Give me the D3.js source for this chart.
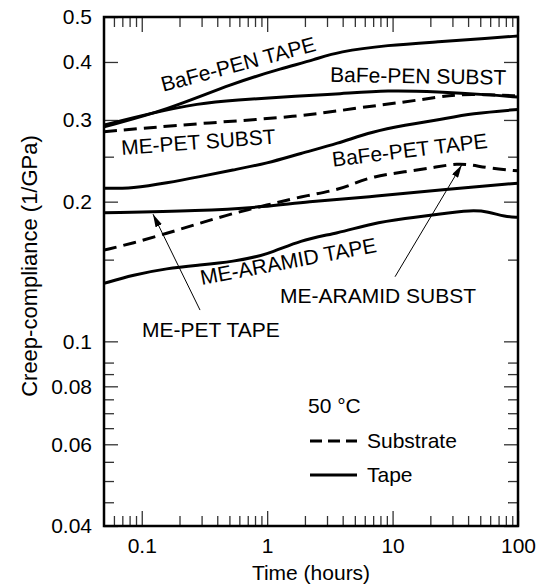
<!DOCTYPE html>
<html>
<head>
<meta charset="utf-8">
<script src="https://cdn.jsdelivr.net/npm/d3@7"></script>
<style>
  body { margin: 0; background: #fff; }
  text { font-family: "Liberation Sans", Arial, Helvetica, sans-serif; }
</style>
</head>
<body>
<div id="chart"></div>
<script>
// axis ticks
var xMajor = [0.1, 1, 10, 100];
var xMajorLabels = ['0.1', '1', '10', '100'];
var xMinor = [0.06, 0.07, 0.08, 0.09, 0.2, 0.3, 0.4, 0.5, 0.6, 0.7, 0.8, 0.9,
              2, 3, 4, 5, 6, 7, 8, 9, 20, 30, 40, 50, 60, 70, 80, 90];
var yMajor = [0.04, 0.06, 0.08, 0.1, 0.2, 0.3, 0.4, 0.5];
var yMajorLabels = ['0.04', '0.06', '0.08', '0.1', '0.2', '0.3', '0.4', '0.5'];
var yMinor = [0.045, 0.05, 0.055, 0.065, 0.07, 0.075, 0.085, 0.09, 0.15, 0.25];

// series (time in hours, creep compliance in 1/GPa)
var penTapeX = [0.05, 0.159, 0.53, 1.34, 2.41, 3.67, 9.2, 23, 57.7, 100];
var penTapeY = [0.290, 0.315, 0.360, 0.388, 0.405, 0.421, 0.435, 0.442, 0.450, 0.455];

var penSubstX = [0.05, 0.116, 0.29, 0.53, 1.83, 3.67, 9.2, 23, 57.7, 100];
var penSubstY = [0.2925, 0.310, 0.326, 0.331, 0.338, 0.341, 0.348, 0.345, 0.340, 0.336];

var mePetSubstX = [0.05, 0.29, 1.83, 5.0, 12.6, 23, 34.5, 59.8, 100];
var mePetSubstY = [0.283, 0.295, 0.305, 0.318, 0.328, 0.336, 0.341, 0.340, 0.338];

var bafePetTapeX = [0.05, 0.085, 0.159, 0.29, 0.53, 1.0, 1.83, 3.67, 6.86, 12.6, 23, 43, 100];
var bafePetTapeY = [0.2137, 0.2137, 0.2194, 0.2264, 0.234, 0.2418, 0.254, 0.267, 0.283, 0.2925, 0.300, 0.310, 0.316];

var aramidSubstX = [0.05, 0.085, 0.159, 0.29, 0.53, 1.0, 1.83, 3.67, 5.0, 6.86, 12.6, 23, 33, 43, 59.8, 100];
var aramidSubstY = [0.1573, 0.1627, 0.171, 0.1796, 0.1887, 0.1967, 0.2049, 0.212, 0.2192, 0.2264, 0.232, 0.2378, 0.2418, 0.240, 0.236, 0.233];

var mePetTapeX = [0.05, 0.29, 1.0, 2.0, 6.86, 23, 100];
var mePetTapeY = [0.1893, 0.191, 0.195, 0.200, 0.2049, 0.212, 0.2192];

var aramidTapeX = [0.05, 0.085, 0.159, 0.29, 0.53, 1.0, 1.83, 3.67, 6.86, 12.6, 23, 43, 57.7, 78.9, 100];
var aramidTapeY = [0.1333, 0.139, 0.1437, 0.146, 0.1485, 0.1535, 0.1654, 0.171, 0.1796, 0.184, 0.188, 0.1919, 0.1903, 0.1856, 0.185];

(function () {
    var width = 542, height = 587;
    var plotLeft = 104, plotRight = 518, plotTop = 17, plotBottom = 526;
    var fontSize = 21;

    var x = d3.scaleLog().domain([0.05, 100]).range([plotLeft, plotRight]);
    var y = d3.scaleLog().domain([0.04, 0.5]).range([plotBottom, plotTop]);

    var svg = d3.select('#chart').append('svg')
        .attr('width', width)
        .attr('height', height);

    var defs = svg.append('defs');
    defs.append('clipPath').attr('id', 'plot')
        .append('rect')
        .attr('x', plotLeft).attr('y', plotTop)
        .attr('width', plotRight - plotLeft).attr('height', plotBottom - plotTop);
    defs.append('marker')
        .attr('id', 'head')
        .attr('viewBox', '0 0 13 7')
        .attr('refX', 13).attr('refY', 3.5)
        .attr('markerWidth', 13).attr('markerHeight', 7)
        .attr('markerUnits', 'userSpaceOnUse')
        .attr('orient', 'auto')
        .append('path')
        .attr('d', 'M0,0L13,3.5L0,7Z')
        .attr('fill', '#000');

    function styleAxis(g) {
        g.select('.domain').remove();
        g.selectAll('.tick line').attr('stroke', '#333').attr('stroke-width', 1.3);
        g.selectAll('text')
            .attr('fill', '#000')
            .style('font-size', fontSize + 'px')
            .style('font-family', '"Liberation Sans", Arial, sans-serif');
    }

    function fmtFrom(values, labels) {
        return function (d) { return labels[values.indexOf(d)]; };
    }

    // bottom axis
    svg.append('g').attr('transform', 'translate(0,' + plotBottom + ')')
        .call(d3.axisBottom(x).tickValues(xMinor).tickSize(-10).tickFormat(''))
        .call(styleAxis);
    svg.append('g').attr('transform', 'translate(0,' + plotBottom + ')')
        .call(d3.axisBottom(x).tickValues(xMajor).tickSize(-15).tickPadding(12)
            .tickFormat(fmtFrom(xMajor, xMajorLabels)))
        .call(styleAxis);
    // top axis
    svg.append('g').attr('transform', 'translate(0,' + plotTop + ')')
        .call(d3.axisTop(x).tickValues(xMinor).tickSize(-10).tickFormat(''))
        .call(styleAxis);
    svg.append('g').attr('transform', 'translate(0,' + plotTop + ')')
        .call(d3.axisTop(x).tickValues(xMajor).tickSize(-15).tickFormat(''))
        .call(styleAxis);
    // left axis
    svg.append('g').attr('transform', 'translate(' + plotLeft + ',0)')
        .call(d3.axisLeft(y).tickValues(yMinor).tickSize(-10).tickFormat(''))
        .call(styleAxis);
    svg.append('g').attr('transform', 'translate(' + plotLeft + ',0)')
        .call(d3.axisLeft(y).tickValues(yMajor).tickSize(-14).tickPadding(12)
            .tickFormat(fmtFrom(yMajor, yMajorLabels)))
        .call(styleAxis);
    // right axis
    svg.append('g').attr('transform', 'translate(' + plotRight + ',0)')
        .call(d3.axisRight(y).tickValues(yMinor).tickSize(-10).tickFormat(''))
        .call(styleAxis);
    svg.append('g').attr('transform', 'translate(' + plotRight + ',0)')
        .call(d3.axisRight(y).tickValues(yMajor).tickSize(-14).tickFormat(''))
        .call(styleAxis);

    // curves
    var line = d3.line()
        .x(function (d) { return x(d[0]); })
        .y(function (d) { return y(d[1]); })
        .curve(d3.curveBasis);

    var series = [
        {xs: penTapeX, ys: penTapeY, dash: null},
        {xs: penSubstX, ys: penSubstY, dash: null},
        {xs: mePetSubstX, ys: mePetSubstY, dash: '13,7'},
        {xs: bafePetTapeX, ys: bafePetTapeY, dash: null},
        {xs: aramidSubstX, ys: aramidSubstY, dash: '13,7'},
        {xs: mePetTapeX, ys: mePetTapeY, dash: null},
        {xs: aramidTapeX, ys: aramidTapeY, dash: null}
    ];

    var curves = svg.append('g').attr('clip-path', 'url(#plot)');
    series.forEach(function (s) {
        var pts = s.xs.map(function (v, i) { return [v, s.ys[i]]; });
        curves.append('path')
            .attr('d', line(pts))
            .attr('fill', 'none')
            .attr('stroke', '#000')
            .attr('stroke-width', 3)
            .attr('stroke-dasharray', s.dash);
    });

    // frame
    svg.append('rect')
        .attr('x', plotLeft).attr('y', plotTop)
        .attr('width', plotRight - plotLeft).attr('height', plotBottom - plotTop)
        .attr('fill', 'none')
        .attr('stroke', '#000')
        .attr('stroke-width', 2.5);

    // curve labels: [text, hours, compliance, angle]
    var labels = [
        ['BaFe-PEN TAPE', 0.1486, 0.345, -15],
        ['BaFe-PEN SUBST', 3.17, 0.3626, 1],
        ['ME-PET SUBST', 0.0692, 0.2522, -4.2],
        ['BaFe-PET TAPE', 3.35, 0.2378, -7],
        ['ME-ARAMID TAPE', 0.3006, 0.1322, -10.7],
        ['ME-ARAMID SUBST', 1.266, 0.1211, 0],
        ['ME-PET TAPE', 0.1005, 0.1022, 0]
    ];
    labels.forEach(function (l) {
        var px = x(l[1]), py = y(l[2]);
        svg.append('text')
            .attr('transform', 'translate(' + px + ',' + py + ') rotate(' + l[3] + ')')
            .attr('font-size', fontSize)
            .text(l[0]);
    });

    // arrows: [fromHours, fromY, toHours, toY]
    var arrows = [
        [0.2915, 0.1168, 0.123, 0.188],
        [10.46, 0.1378, 35.6, 0.240]
    ];
    arrows.forEach(function (a) {
        svg.append('line')
            .attr('x1', x(a[0])).attr('y1', y(a[1]))
            .attr('x2', x(a[2])).attr('y2', y(a[3]))
            .attr('stroke', '#000')
            .attr('stroke-width', 1)
            .attr('marker-end', 'url(#head)');
    });

    // legend
    var legend = svg.append('g');
    legend.append('text').attr('x', 308).attr('y', 413).attr('font-size', fontSize).text('50 °C');
    legend.append('line').attr('x1', 310).attr('x2', 357).attr('y1', 441).attr('y2', 441)
        .attr('stroke', '#000').attr('stroke-width', 3).attr('stroke-dasharray', '12,6');
    legend.append('text').attr('x', 367).attr('y', 448).attr('font-size', fontSize).text('Substrate');
    legend.append('line').attr('x1', 310).attr('x2', 357).attr('y1', 475).attr('y2', 475)
        .attr('stroke', '#000').attr('stroke-width', 3);
    legend.append('text').attr('x', 367).attr('y', 482).attr('font-size', fontSize).text('Tape');

    // axis titles
    svg.append('text')
        .attr('x', (plotLeft + plotRight) / 2).attr('y', 580)
        .attr('text-anchor', 'middle')
        .attr('font-size', fontSize)
        .text('Time (hours)');
    svg.append('text')
        .attr('transform', 'translate(37,266) rotate(-90)')
        .attr('text-anchor', 'middle')
        .attr('font-size', 22)
        .text('Creep-compliance (1/GPa)');
})();
</script>
</body>
</html>
